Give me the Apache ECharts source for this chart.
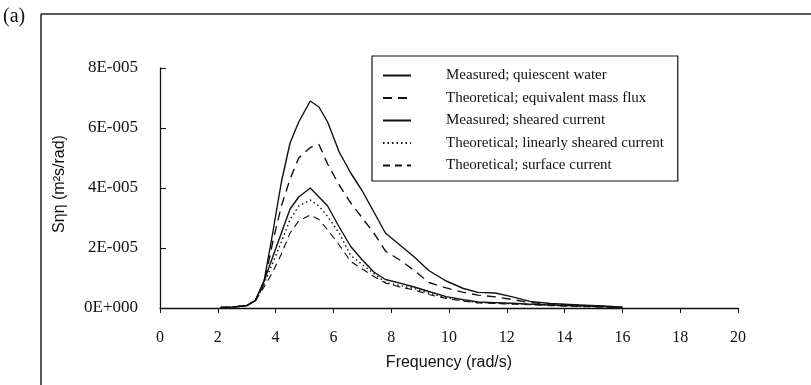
<!DOCTYPE html>
<html>
<head>
<meta charset="utf-8">
<script src="https://cdn.jsdelivr.net/npm/echarts@6/dist/echarts.min.js"></script>
<style>
  html, body { margin: 0; padding: 0; background: #fff; }
  #chart { width: 811px; height: 385px; }
</style>
</head>
<body>
<div id="chart"></div>
<script>
// spectral density values in units of 1E-006 m^2 s/rad
const UNIT = 1e-6;
const freq = [2.1, 2.5, 3.0, 3.3, 3.6, 3.9, 4.2, 4.5, 4.8, 5.2, 5.5, 5.8, 6.2, 6.6, 7.0, 7.4, 7.8, 8.3, 8.8, 9.3, 9.9, 10.5, 11.0, 11.6, 12.2, 12.8, 13.5, 14.5, 15.3, 16.0];
const quiescent = [0.2, 0.3, 0.8, 2.5, 9, 25, 42, 55, 62, 69, 67, 62, 52, 45, 39, 32, 25, 21, 17, 12.5, 9, 6.5, 5.2, 5, 3.7, 2.2, 1.5, 1.0, 0.7, 0.3];
const massFlux = [0.2, 0.3, 0.8, 2.5, 8, 22, 34, 43, 50, 53.5, 54.5, 48, 41, 35, 30, 25, 19, 16, 12.5, 8.5, 6.7, 5.2, 4.3, 3.7, 2.8, 1.8, 1.3, 0.9, 0.6, 0.3];
const sheared = [0.2, 0.3, 0.8, 2.5, 9, 17, 25, 33, 37, 40, 37, 34, 27, 20.5, 16, 12, 9.5, 8.3, 7, 5.5, 3.8, 2.8, 2.0, 1.8, 1.6, 1.3, 1.0, 0.7, 0.5, 0.2];
const linear = [0.2, 0.3, 0.8, 2.5, 8, 15, 22, 29.5, 34, 36, 34, 30.5, 25, 17.5, 14.5, 11.5, 8.5, 7.5, 6.5, 5, 3.5, 2.5, 1.8, 1.6, 1.4, 1.2, 0.9, 0.6, 0.4, 0.2];
const surface = [0.2, 0.3, 0.8, 2.3, 7, 12, 18, 25, 29, 31, 29.5, 26, 21, 15.5, 13, 10.5, 8.3, 7, 6, 4.5, 3.2, 2.3, 1.7, 1.5, 1.3, 1.1, 0.8, 0.5, 0.3, 0.2];

const names = [
  'Measured; quiescent water',
  'Theoretical; equivalent mass flux',
  'Measured; sheared current',
  'Theoretical; linearly sheared current',
  'Theoretical; surface current'
];

const serif = 'Liberation Serif';
const sans = 'Liberation Sans Narrow, Liberation Sans';

const fmtY = (v) => {
  if (Math.abs(v) < 1e-12) return '0E+000';
  const e = Math.floor(Math.log10(v) + 1e-9);
  const m = Math.round(v / Math.pow(10, e));
  return m + 'E-' + String(-e).padStart(3, '0');
};

const makeSeries = (name, vals, type, width) => ({
  name: name,
  type: 'line',
  symbol: 'none',
  data: freq.map((f, i) => [f, vals[i] * UNIT]),
  itemStyle: { color: '#111' },
  lineStyle: { color: '#111', width: width, type: type }
});

const chart = echarts.init(document.getElementById('chart'));
chart.setOption({
  animation: false,
  backgroundColor: '#fff',
  textStyle: { fontFamily: serif, color: '#111' },
  grid: { left: 160, right: 73, top: 68, bottom: 77 },
  graphic: [
    { type: 'line', shape: { x1: 41, y1: 14, x2: 811, y2: 14 }, style: { stroke: '#222', lineWidth: 1.5 } },
    { type: 'line', shape: { x1: 41, y1: 14, x2: 41, y2: 385 }, style: { stroke: '#222', lineWidth: 1.5 } },
    { type: 'text', left: 3, top: 7, style: { text: '(a)', font: '20px Liberation Serif', fill: '#111' } },
    {
      type: 'text', x: 60, y: 184, rotation: Math.PI / 2,
      style: { text: 'Sηη (m²s/rad)', font: '16px Liberation Sans Narrow, Liberation Sans', fill: '#111', align: 'center', verticalAlign: 'middle' }
    }
  ],
  legend: {
    orient: 'vertical',
    left: 372,
    top: 56,
    padding: [12, 14, 8, 10],
    itemGap: 7.5,
    itemWidth: 28,
    itemHeight: 14,
    borderColor: '#111',
    borderWidth: 1.2,
    itemStyle: { opacity: 0 },
    textStyle: { fontFamily: serif, fontSize: 15, color: '#111', padding: [0, 0, 0, 30] },
    data: names
  },
  xAxis: {
    type: 'value',
    min: 0,
    max: 20,
    interval: 2,
    name: 'Frequency (rad/s)',
    nameLocation: 'middle',
    nameGap: 47,
    nameTextStyle: { fontFamily: sans, fontSize: 16, color: '#111' },
    axisLine: { lineStyle: { color: '#111', width: 1.3 } },
    axisTick: { show: true, length: 5, lineStyle: { color: '#111' } },
    axisLabel: { margin: 22, fontSize: 16, fontFamily: serif, color: '#111' },
    splitLine: { show: false }
  },
  yAxis: {
    type: 'value',
    min: 0,
    max: 8e-5,
    interval: 2e-5,
    axisLine: { show: true, lineStyle: { color: '#111', width: 1.3 } },
    axisTick: { show: true, inside: true, length: 6, lineStyle: { color: '#111' } },
    axisLabel: { margin: 22, fontSize: 17, fontFamily: serif, color: '#111', formatter: fmtY },
    splitLine: { show: false }
  },
  series: [
    makeSeries(names[0], quiescent, 'solid', 1.4),
    makeSeries(names[1], massFlux, [9, 6], 1.4),
    makeSeries(names[2], sheared, 'solid', 1.4),
    makeSeries(names[3], linear, [1.5, 3], 1.4),
    makeSeries(names[4], surface, [7, 5], 1.1)
  ]
});
</script>
</body>
</html>
